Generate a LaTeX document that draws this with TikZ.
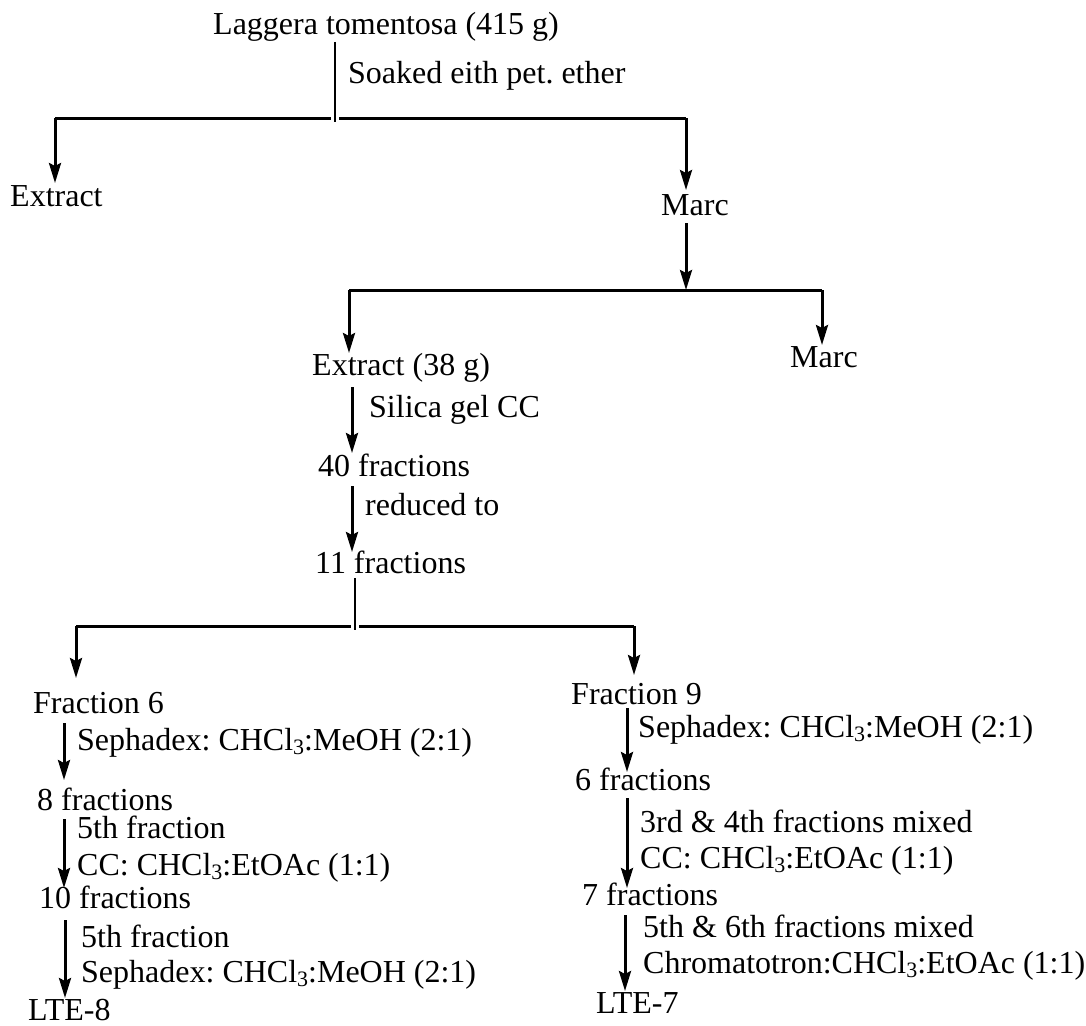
\documentclass[tikz,border=0pt]{standalone}
\usepackage{fontspec}
\setmainfont{Liberation Serif}
\usetikzlibrary{arrows.meta}
\newcommand\chsub[1]{\raisebox{-0.33ex}{\fontsize{22}{22}\selectfont #1}}
\frenchspacing
\tikzset{
  lbl/.style={inner sep=0pt, anchor=base west, font=\fontsize{32}{36}\selectfont},
  arr/.style={line width=3pt, -{Stealth[length=20pt,width=12pt,inset=3pt]}},
  bar/.style={line width=3pt},
  stem/.style={line width=2pt},
}
\begin{document}
\begin{tikzpicture}[x=1pt,y=-1pt]
\useasboundingbox (0,0) rectangle (1086,1025);
% nodes
\node[lbl] (top) at (213,35) {Laggera tomentosa (415 g)};
\node[lbl] (soak) at (348,83) {Soaked eith pet. ether};
\node[lbl] (ext1) at (10,206) {Extract};
\node[lbl] (marc1) at (661,215) {Marc};
\node[lbl] (ext2) at (312,375) {Extract (38 g)};
\node[lbl] (marc2) at (790,367) {Marc};
\node[lbl] (silica) at (369,417) {Silica gel CC};
\node[lbl] (f40) at (318,476) {40 fractions};
\node[lbl] (red) at (365,515) {reduced to};
\node[lbl] (f11) at (315,573) {11 fractions};
\node[lbl] (fr6) at (33,713) {Fraction 6};
\node[lbl] (fr9) at (571,704) {Fraction 9};
% left column
\node[lbl] (s1) at (77,750) {Sephadex: CHCl\chsub{3}:MeOH (2:1)};
\node[lbl] (f8) at (37,810) {8 fractions};
\node[lbl] (s2a) at (77,838) {5th fraction};
\node[lbl] (s2b) at (77,875) {CC: CHCl\chsub{3}:EtOAc (1:1)};
\node[lbl] (f10) at (39,908) {10 fractions};
\node[lbl] (s3a) at (81,947) {5th fraction};
\node[lbl] (s3b) at (81,982) {Sephadex: CHCl\chsub{3}:MeOH (2:1)};
\node[lbl] (lte8) at (28,1020) {LTE-8};
% right column
\node[lbl] (r1) at (638,737) {Sephadex: CHCl\chsub{3}:MeOH (2:1)};
\node[lbl] (f6) at (575,790) {6 fractions};
\node[lbl] (r2a) at (640,832) {3rd \& 4th fractions mixed};
\node[lbl] (r2b) at (640,868) {CC: CHCl\chsub{3}:EtOAc (1:1)};
\node[lbl] (f7) at (582,905) {7 fractions};
\node[lbl] (r3a) at (643,937) {5th \& 6th fractions mixed};
\node[lbl] (r3b) at (643,973) {Chromatotron:CHCl\chsub{3}:EtOAc (1:1)};
\node[lbl] (lte7) at (596,1013) {LTE-7};
% branch points
\coordinate (b1) at (335,118);
\coordinate (b1l) at (55,118);
\coordinate (b1r) at (686,118);
\coordinate (b2) at (686,290);
\coordinate (b2l) at (349,290);
\coordinate (b2r) at (822,290);
\coordinate (b3) at (355,626);
\coordinate (b3l) at (76,626);
\coordinate (b3r) at (634,626);
% first split
\draw[stem] ([yshift=-7pt]top.base -| b1) -- ([yshift=-4pt]b1);
\draw[bar] (b1l) -- ([xshift=-4pt]b1);
\draw[bar] ([xshift=4pt]b1) -- (b1r);
\draw[arr] (b1l) -- ([yshift=23pt]ext1.base -| b1l);
\draw[arr] (b1r) -- ([yshift=25pt]marc1.base -| b1r);
% second split
\draw[arr] ([yshift=-8pt]marc1.base -| b2) -- (b2);
\draw[bar] (b2l) -- (b2r);
\draw[arr] (b2l) -- ([yshift=22pt]ext2.base -| b2l);
\draw[arr] (b2r) -- ([yshift=22pt]marc2.base -| b2r);
% middle chain
\draw[arr] ([yshift=-12pt]ext2.base -| 352,0) -- ([yshift=23pt]f40.base -| 352,0);
\draw[arr] ([yshift=-10pt]f40.base -| 352,0) -- ([yshift=21pt]f11.base -| 352,0);
% third split
\draw[stem] ([yshift=-5pt]f11.base -| b3) -- ([yshift=-4pt]b3);
\draw[bar] (b3l) -- ([xshift=-4pt]b3);
\draw[bar] ([xshift=4pt]b3) -- (b3r);
\draw[arr] (b3l) -- ([yshift=35pt]fr6.base -| b3l);
\draw[arr] (b3r) -- ([yshift=29pt]fr9.base -| b3r);
% left column chain
\draw[arr] ([yshift=-10pt]fr6.base -| 64,0) -- ([yshift=30pt]f8.base -| 64,0);
\draw[arr] ([yshift=-9pt]f8.base -| 64,0) -- ([yshift=20pt]f10.base -| 64,0);
\draw[arr] ([yshift=-12pt]f10.base -| 65,0) -- ([yshift=22pt]lte8.base -| 65,0);
% right column chain
\draw[arr] ([yshift=-4pt]fr9.base -| 627,0) -- ([yshift=18pt]f6.base -| 627,0);
\draw[arr] ([yshift=-8pt]f6.base -| 627,0) -- ([yshift=17pt]f7.base -| 627,0);
\draw[arr] ([yshift=-10pt]f7.base -| 625,0) -- ([yshift=22pt]lte7.base -| 625,0);
\end{tikzpicture}
\end{document}
